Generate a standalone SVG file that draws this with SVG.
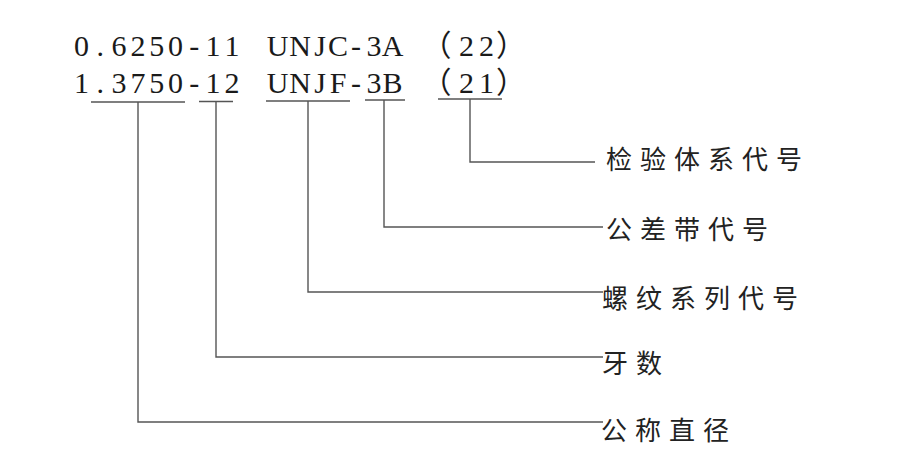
<svg xmlns="http://www.w3.org/2000/svg" width="900" height="464" viewBox="0 0 900 464">
<style>
.code{font-family:"Liberation Serif","Noto Sans CJK SC",serif;font-size:30px;fill:#1a1a1a;text-anchor:middle}
.lbl{font-family:"Noto Sans CJK SC",sans-serif;font-size:26px;fill:#222;letter-spacing:8px}
.ln{fill:none;stroke:#555;stroke-width:1.4}
</style>
<rect width="900" height="464" fill="#fff"/>
<g id="designation">
<text class="code" x="81.5 100.3 119.1 137.9 156.7 175.5 194.3 213.1 231.9" y="56">0.6250-11</text>
<text class="code" x="277.5 300 320 338 356 374 392.5" y="56">UNJC-3A</text>
<text class="code" x="436.5 466.5 486.5 511" y="56">（22）</text>
<text class="code" x="81.5 100.3 119.1 137.9 156.7 175.5 194.3 213.1 231.9" y="93">1.3750-12</text>
<text class="code" x="277.5 300 320 338 356 374 392.5" y="93">UNJF-3B</text>
<text class="code" x="436.5 466.5 486.5 511" y="93">（21）</text>
</g>
<g id="connectors">
<path class="ln" d="M91 102H185M138 102V422H603"/>
<path class="ln" d="M199 101.5H233M216 101.5V357H603"/>
<path class="ln" d="M266 101H350M308 101V292H603"/>
<path class="ln" d="M365 100H405M384 100V227H603"/>
<path class="ln" d="M438 99H502M470 99V162H595"/>
</g>
<g id="n-system"><text class="lbl" x="606" y="169">检验体系代号</text></g>
<g id="n-tolerance"><text class="lbl" x="606" y="239">公差带代号</text></g>
<g id="n-series"><text class="lbl" x="602" y="308">螺纹系列代号</text></g>
<g id="n-pitch"><text class="lbl" x="602" y="373">牙数</text></g>
<g id="n-diameter"><text class="lbl" x="601" y="440">公称直径</text></g>
</svg>
